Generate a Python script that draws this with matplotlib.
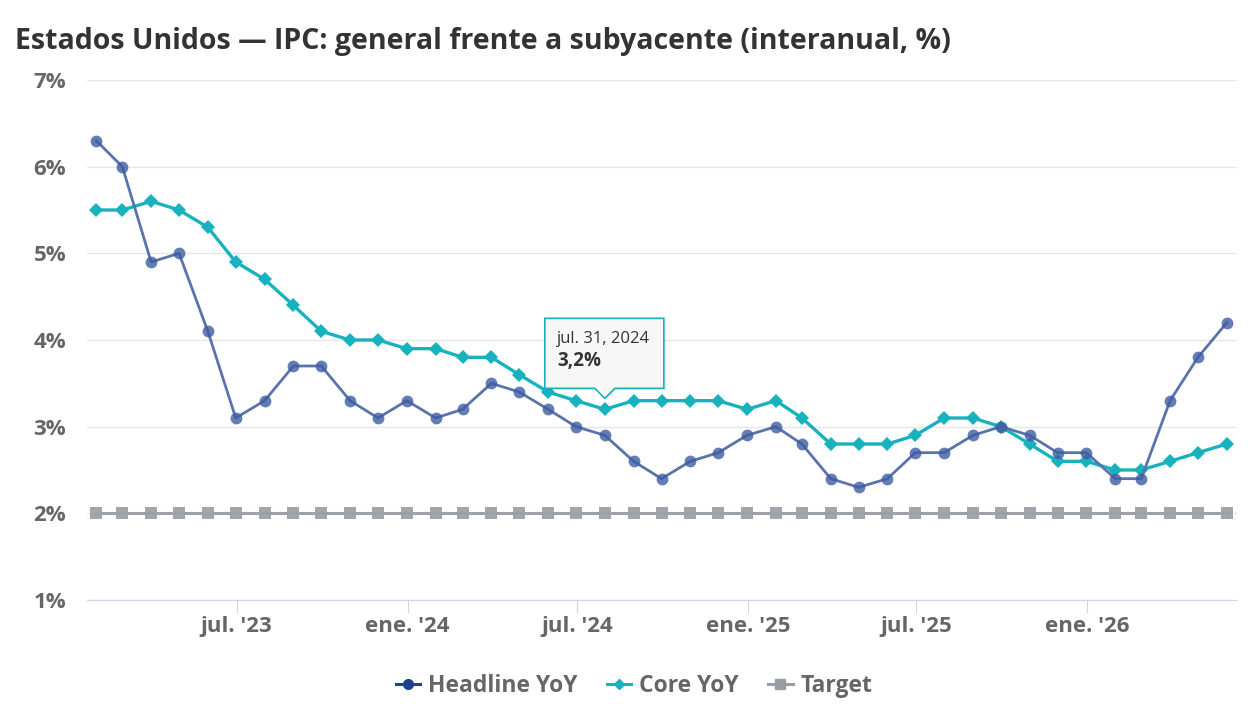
import matplotlib

matplotlib.use("Agg")
import matplotlib.pyplot as plt
import matplotlib.dates as mdates
from matplotlib.lines import Line2D
from matplotlib.patches import Polygon
import pandas as pd

plt.rcParams["font.family"] = ["Open Sans", "DejaVu Sans"]

dates = pd.date_range("2023-01-31", periods=41, freq="ME")
headline = [6.3, 6.0, 4.9, 5.0, 4.1, 3.1, 3.3, 3.7, 3.7, 3.3, 3.1, 3.3, 3.1, 3.2,
            3.5, 3.4, 3.2, 3.0, 2.9, 2.6, 2.4, 2.6, 2.7, 2.9, 3.0, 2.8, 2.4, 2.3,
            2.4, 2.7, 2.7, 2.9, 3.0, 2.9, 2.7, 2.7, 2.4, 2.4, 3.3, 3.8, 4.2]
core = [5.5, 5.5, 5.6, 5.5, 5.3, 4.9, 4.7, 4.4, 4.1, 4.0, 4.0, 3.9, 3.9, 3.8,
        3.8, 3.6, 3.4, 3.3, 3.2, 3.3, 3.3, 3.3, 3.3, 3.2, 3.3, 3.1, 2.8, 2.8,
        2.8, 2.9, 3.1, 3.1, 3.0, 2.8, 2.6, 2.6, 2.5, 2.5, 2.6, 2.7, 2.8]
target = [2.0] * len(dates)
tick_dates = pd.to_datetime(["2023-07-01", "2024-01-01", "2024-07-01",
                             "2025-01-01", "2025-07-01", "2026-01-01"])
tick_labels = ["jul. '23", "ene. '24", "jul. '24", "ene. '25", "jul. '25", "ene. '26"]
y_ticks = [1, 2, 3, 4, 5, 6, 7]
tooltip_index = 18  # jul. 31, 2024 (core)

HEAD_LINE = "#5a74ab"
HEAD_MARK = "#3f5ca3"
CORE = "#17b2be"
TARGET = "#989da4"

fig = plt.figure(figsize=(12.55, 7.21), dpi=100)
ax = fig.add_axes([87 / 1255, 1 - 600 / 721, 1150 / 1255, 520 / 721])

ax.plot(dates, target, color=TARGET, lw=2.2, marker="s", ms=8.5,
        markerfacecolor="#9ca1a8", markeredgewidth=0, alpha=0.95, zorder=2)
ax.plot(dates, core, color=CORE, lw=2.4, marker="D", ms=7,
        markeredgewidth=0, zorder=3)
ax.plot(dates, headline, color=HEAD_LINE, lw=2.0, zorder=4)
ax.plot(dates, headline, lw=0, marker="o", ms=8.5, markerfacecolor=HEAD_MARK,
        markeredgewidth=0, alpha=0.8, zorder=5)

ax.set_ylim(1, 7)
ax.set_xlim(pd.Timestamp("2023-01-21"), pd.Timestamp("2026-06-11"))
ax.set_yticks(y_ticks)
ax.set_yticklabels([f"{v}%" for v in y_ticks])
ax.set_xticks(tick_dates)
ax.set_xticklabels(tick_labels)
ax.grid(axis="y", color="#e6e6e6", lw=1)
ax.set_axisbelow(True)
for side in ["top", "right", "left"]:
    ax.spines[side].set_visible(False)
ax.spines["bottom"].set_color("#ccd6eb")
ax.tick_params(axis="x", length=9.5, color="#ccd6eb", pad=2,
               labelsize=16, labelcolor="#666666")
ax.tick_params(axis="y", length=0, pad=15, labelsize=16, labelcolor="#666666")
for lab in ax.get_xticklabels() + ax.get_yticklabels():
    lab.set_fontweight("bold")

fig.text(15 / 1255, 1 - 42 / 721, "Estados Unidos \u2014 IPC: general frente a subyacente (interanual, %)",
         fontsize=20.5, fontweight="bold", color="#333333", va="center")

# tooltip callout anchored to the hovered core point
px, py = ax.transData.transform((mdates.date2num(dates[tooltip_index]), core[tooltip_index]))
left, right, bottom, top = px - 60, px + 59, py + 21, py + 91
box = [(left, bottom), (px - 10, bottom), (px, py + 11), (px + 10, bottom),
       (right, bottom), (right, top), (left, top)]
shadow = [(x + 2, y - 2) for x, y in box]
fig.patches.append(Polygon(shadow, closed=True, transform=None, facecolor="#000000",
                           alpha=0.08, edgecolor="none", zorder=9))
fig.patches.append(Polygon(box, closed=True, transform=None, facecolor="#f7f7f7",
                           edgecolor=CORE, lw=1.2, zorder=10))
fig.text((left + 12) / 1255, (top - 21) / 721, "jul. 31, 2024", fontsize=12,
         color="#333333", va="center", zorder=11)
fig.text((left + 12) / 1255, (top - 43) / 721, f"{core[tooltip_index]:.1f}%".replace(".", ","),
         fontsize=13.5, fontweight="bold", color="#333333", va="center", zorder=11)

handles = [
    Line2D([], [], color="#1f3f8f", lw=2.2, marker="o", ms=7),
    Line2D([], [], color=CORE, lw=2.2, marker="D", ms=5.5),
    Line2D([], [], color=TARGET, lw=2.2, marker="s", ms=6.5),
]
leg = fig.legend(handles, ["Headline YoY", "Core YoY", "Target"], loc="center",
                 bbox_to_anchor=(634 / 1255, 1 - 686 / 721), ncol=3, frameon=False,
                 handlelength=1.05, handletextpad=0.35, columnspacing=1.3,
                 prop={"size": 16.5, "weight": "bold"})
for text in leg.get_texts():
    text.set_color("#666666")

fig.savefig("out.png", dpi=100)
